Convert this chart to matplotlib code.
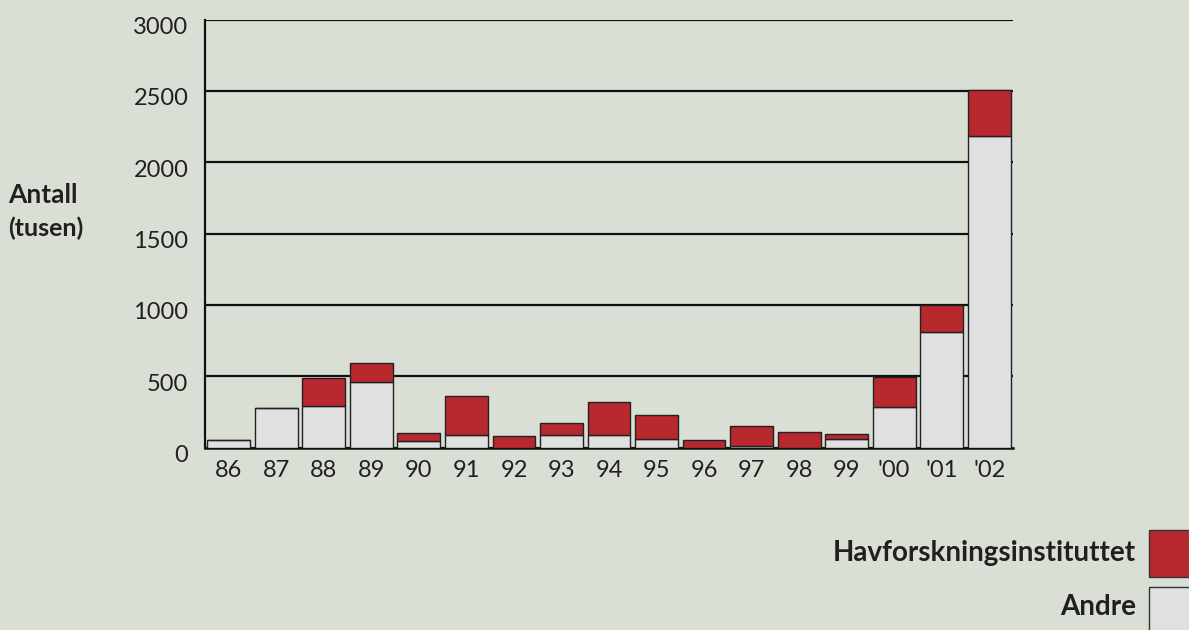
import matplotlib.pyplot as plt
import matplotlib.transforms as mtransforms
import numpy as np
from matplotlib.patches import Rectangle

plt.rcParams['font.family'] = ['Lato', 'DejaVu Sans']

# data (tusen)
aar = ['86', '87', '88', '89', '90', '91', '92', '93', '94', '95',
       '96', '97', '98', '99', "'00", "'01", "'02"]
andre = [50, 275, 293, 460, 48, 88, 0, 90, 85, 57, 0, 8, 0, 57, 286, 810, 2180]
havforskning = [0, 0, 192, 132, 54, 271, 80, 84, 234, 168, 50, 145, 110, 40, 210, 190, 325]

bg = '#d9dfd4'
rod = '#b8282f'
graa = '#e0e0e0'
tekst = '#231f20'

fig = plt.figure(figsize=(11.89, 6.30), dpi=100, facecolor=bg)
ax = fig.add_axes([205 / 1189, 1 - 447.5 / 630, (1013 - 205) / 1189, (447.5 - 19.5) / 630])
ax.set_facecolor(bg)

x = np.arange(len(aar))
ax.bar(x, andre, width=0.9, color=graa, edgecolor='#222222', linewidth=1, zorder=3)
ax.bar(x, havforskning, bottom=andre, width=0.9, color=rod, edgecolor='#222222', linewidth=1, zorder=3)

ax.set_xlim(-0.5, len(aar) - 0.5)
ax.set_ylim(0, 3000)
ax.set_yticks([0, 500, 1000, 1500, 2000, 2500, 3000])
ax.yaxis.grid(True, color='#111111', linewidth=1.6, zorder=1)
ax.set_axisbelow(True)
ax.set_xticks(x)
ax.set_xticklabels(aar)
ax.tick_params(axis='both', length=0, labelsize=17, colors=tekst)
ax.tick_params(axis='y', pad=12)
ax.tick_params(axis='x', pad=9)

# y-etiketter litt lavere enn linjene, som i originalen
offset = mtransforms.ScaledTranslation(0, -6 / 100, fig.dpi_scale_trans)
for lbl in ax.get_yticklabels():
    lbl.set_transform(lbl.get_transform() + offset)

for s in ['top', 'right']:
    ax.spines[s].set_visible(False)
ax.spines['left'].set_linewidth(1.6)
ax.spines['bottom'].set_linewidth(1.8)
ax.spines['left'].set_color('#111111')
ax.spines['bottom'].set_color('#111111')

fig.text(8 / 1189, 1 - 195 / 630, 'Antall', fontsize=19, fontweight='bold',
         color=tekst, ha='left', va='center')
fig.text(8 / 1189, 1 - 228 / 630, '(tusen)', fontsize=18, fontweight='bold',
         color=tekst, ha='left', va='center')

# legend
fig.patches.append(Rectangle((1149 / 1189, 1 - 577 / 630), 50 / 1189, 47 / 630,
                             transform=fig.transFigure, facecolor=rod,
                             edgecolor='#333333', linewidth=1))
fig.patches.append(Rectangle((1149 / 1189, 1 - 640 / 630), 50 / 1189, 53 / 630,
                             transform=fig.transFigure, facecolor=graa,
                             edgecolor='#333333', linewidth=1))
fig.text(1136 / 1189, 1 - 553 / 630, 'Havforskningsinstituttet', fontsize=20,
         fontweight='bold', color=tekst, ha='right', va='center')
fig.text(1136 / 1189, 1 - 607 / 630, 'Andre', fontsize=20,
         fontweight='bold', color=tekst, ha='right', va='center')

fig.savefig('out.png', dpi=100, facecolor=bg)
